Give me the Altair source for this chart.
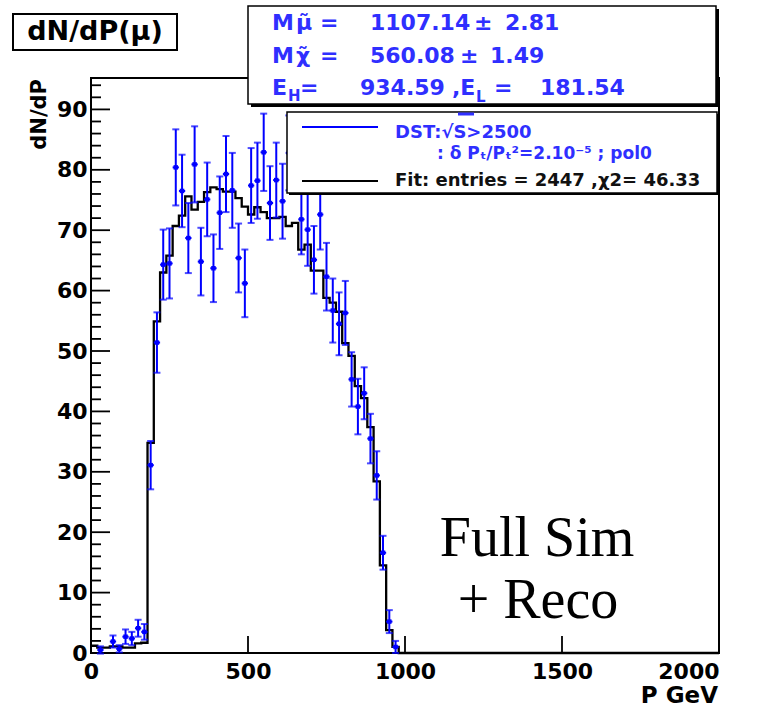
import altair as alt
import pandas as pd

# ---------------- data ----------------
bin_lo = [0, 20, 40, 60, 80, 100, 120, 140, 160, 180,
          200, 220, 240, 260, 280, 300, 320, 340, 360, 380,
          400, 420, 440, 460, 480, 500, 520, 540, 560, 580,
          600, 620, 640, 660, 680, 700, 720, 740, 760, 780,
          800, 820, 840, 860, 880, 900, 920, 940, 960, 980]
fit_vals = [1.2, 0.9, 0.9, 1.1, 1.1, 0.9, 0.9, 1.6, 1.7, 34.8,
            54.9, 63.0, 65.8, 70.7, 72.4, 75.6, 73.4, 74.7, 76.3, 77.1,
            76.8, 76.4, 76.4, 75.3, 73.9, 72.6, 73.8, 73.0, 72.0, 72.0,
            72.2, 70.7, 71.2, 66.8, 67.6, 63.3, 63.3, 58.8, 58.0, 56.5,
            51.3, 49.2, 44.2, 42.2, 37.4, 28.4, 14.5, 3.8, 1.0, 0.0]

pt_center = [30, 70, 90, 110, 130, 150, 170, 190,
             210, 230, 250, 270, 290, 310, 330, 350, 370, 390,
             410, 430, 450, 470, 490, 510, 530, 550, 570, 590,
             610, 630, 650, 670, 690, 710, 730, 750, 770, 790,
             810, 830, 850, 870, 890, 910, 930, 950, 970]
pt_val = [0.5, 1.9, 0.7, 2.7, 2.4, 4.1, 3.5, 31.1,
          51.4, 64.3, 64.5, 80.4, 76.5, 68.7, 80.9, 64.8, 75.1, 63.7,
          72.9, 79.3, 76.6, 65.4, 61.2, 77.4, 78.2, 82.9, 74.5, 78.3,
          74.8, 82.8, 83.0, 71.8, 70.1, 65.1, 72.6, 62.3, 56.7, 54.5,
          56.3, 45.3, 40.8, 43.0, 35.5, 29.4, 16.6, 5.2, 1.0]
pt_err = [0.6, 1.0, 0.6, 1.2, 1.1, 1.4, 1.3, 4.0,
          5.0, 5.8, 5.8, 6.3, 6.0, 5.8, 6.3, 5.6, 6.1, 5.6,
          6.0, 6.3, 6.2, 5.7, 5.6, 6.2, 6.3, 6.4, 6.1, 6.2,
          6.2, 6.2, 6.2, 5.8, 6.0, 5.6, 5.8, 5.6, 5.3, 5.2,
          5.3, 4.5, 4.6, 4.3, 4.1, 4.0, 2.8, 1.9, 1.0]
bin_half = 10

x_ticks = [0, 500, 1000, 1500, 2000]
x_major_inner = [500, 1000, 1500]
y_ticks = [0, 10, 20, 30, 40, 50, 60, 70, 80, 90]
y_minor = [v for v in range(0, 96, 2) if v % 10]

# ---------------- layout ----------------
SANS = "DejaVu Sans"
SERIF = "Liberation Serif"
BLUE = "#0000ff"
STATBLUE = "#2f2fff"
OX, OY = 91, 78
W, H = 628, 575
YMAX = 95.2

xs = alt.Scale(domain=[0, 2000], nice=False, zero=False)
ys = alt.Scale(domain=[0, YMAX], nice=False, zero=False)

xaxis = alt.Axis(values=x_ticks, title=None, grid=False, ticks=False, tickSize=0,
                 domain=False, labelFont=SANS, labelFontSize=22, labelFontWeight="bold",
                 labelColor="black", labelPadding=8, format="d", labelFlush=False,
                 labelOverlap=False,
                 labelAlign={"condition": {"test": "datum.value >= 2000", "value": "right"},
                             "value": "center"})
yaxis = alt.Axis(values=y_ticks, title=None, grid=False, ticks=False, tickSize=0,
                 domain=False, labelFont=SANS, labelFontSize=22, labelFontWeight="bold",
                 labelColor="black", labelPadding=4, format="d", labelOverlap=False)

hist_df = pd.DataFrame({"x": bin_lo + [1000, 2000], "y": fit_vals + [0.0, 0.0]})
pts = pd.DataFrame({"c": pt_center, "v": pt_val, "e": pt_err})
pts["lo"] = pts["v"] - pts["e"]
pts["hi"] = pts["v"] + pts["e"]
pts["xl"] = pts["c"] - bin_half
pts["xr"] = pts["c"] + bin_half

one = pd.DataFrame({"k": [0]})


def X(f):
    return alt.X(f, scale=xs, axis=xaxis)


def Y(f):
    return alt.Y(f, scale=ys, axis=yaxis)


hist = alt.Chart(hist_df).mark_line(interpolate="step-after", color="black",
                                    strokeWidth=2.3).encode(x=X("x:Q"), y=Y("y:Q"))

ymaj = alt.Chart(pd.DataFrame({"v": y_ticks})).mark_rule(color="black", strokeWidth=1.8).encode(
    y=Y("v:Q"), x=alt.value(0), x2=alt.value(19))
ymin = alt.Chart(pd.DataFrame({"v": y_minor})).mark_rule(color="black", strokeWidth=1.8).encode(
    y=Y("v:Q"), x=alt.value(0), x2=alt.value(10))
xmaj = alt.Chart(pd.DataFrame({"v": x_major_inner})).mark_rule(color="black", strokeWidth=1.8).encode(
    x=X("v:Q"), y=alt.value(H), y2=alt.value(H - 17))

vbar = alt.Chart(pts).mark_rule(color=BLUE, strokeWidth=2).encode(
    x=X("c:Q"), y=Y("lo:Q"), y2="hi:Q")
hbar = alt.Chart(pts).mark_rule(color=BLUE, strokeWidth=2).encode(
    x=X("xl:Q"), x2="xr:Q", y=Y("v:Q"))
cap_hi = alt.Chart(pts).mark_tick(color=BLUE, orient="horizontal", size=7, thickness=2).encode(
    x=X("c:Q"), y=Y("hi:Q"))
cap_lo = alt.Chart(pts).mark_tick(color=BLUE, orient="horizontal", size=7, thickness=2).encode(
    x=X("c:Q"), y=Y("lo:Q"))
mark = alt.Chart(pts).mark_square(color=BLUE, size=20, opacity=1, filled=True).encode(
    x=X("c:Q"), y=Y("v:Q"))


def box(x1, y1, x2, y2, shadow=0, sw=1.5):
    layers = []
    if shadow:
        layers.append(alt.Chart(one).mark_rect(fill="black").encode(
            x=alt.value(x1 - OX + shadow), x2=alt.value(x2 - OX + shadow),
            y=alt.value(y1 - OY + shadow), y2=alt.value(y2 - OY + shadow)))
    layers.append(alt.Chart(one).mark_rect(fill="white", stroke="black", strokeWidth=sw).encode(
        x=alt.value(x1 - OX), x2=alt.value(x2 - OX),
        y=alt.value(y1 - OY), y2=alt.value(y2 - OY)))
    return layers


def label(text, x, y, size, color="black", weight="bold", align="left",
          baseline="middle", font=SANS, angle=None):
    props = dict(text=text, fontSize=size, color=color, fontWeight=weight,
                 align=align, baseline=baseline, font=font)
    if angle is not None:
        props["angle"] = angle
    return alt.Chart(one).mark_text(**props).encode(
        x=alt.value(x - OX), y=alt.value(y - OY))


def hline(x1, x2, y, color, width=2):
    return alt.Chart(one).mark_rule(color=color, strokeWidth=width).encode(
        x=alt.value(x1 - OX), x2=alt.value(x2 - OX), y=alt.value(y - OY))


layers = [hist, ymaj, ymin, xmaj, vbar, hbar, cap_hi, cap_lo, mark]

# title box
layers += box(13, 14, 177, 50, sw=2)
layers.append(label("dN/dP(\u03bc)", 95, 32, 27, weight="bold", align="center"))

# stats box
layers += box(248, 6, 716, 104, shadow=3)
r1, r2, r3 = 23, 56, 88
layers += [
    label("M", 272, r1, 22, STATBLUE), label("\u03bc\u0303", 296, r1, 22, STATBLUE),
    label("=", 320, r1, 22, STATBLUE), label("1107.14", 370, r1, 22, STATBLUE),
    label("\u00b1", 474, r1, 22, STATBLUE), label("2.81", 505, r1, 22, STATBLUE),
    label("M", 272, r2, 22, STATBLUE), label("\u03c7\u0303", 296, r2, 22, STATBLUE),
    label("=", 320, r2, 22, STATBLUE), label("560.08", 370, r2, 22, STATBLUE),
    label("\u00b1", 460, r2, 22, STATBLUE), label("1.49", 490, r2, 22, STATBLUE),
    label("E", 272, r3, 22, STATBLUE), label("H", 288, r3 + 8, 15, STATBLUE),
    label("=", 300, r3, 22, STATBLUE), label("934.59", 360, r3, 22, STATBLUE),
    label(",E", 452, r3, 22, STATBLUE), label("L", 476, r3 + 9, 15, STATBLUE),
    label("=", 494, r3, 22, STATBLUE), label("181.54", 540, r3, 22, STATBLUE),
]

# legend box
layers += box(287, 112, 717, 193, shadow=2)
layers += [
    hline(302, 378, 127, BLUE),
    hline(302, 378, 181, "black"),
    label("DST:\u221aS>2500", 395, 133, 18, STATBLUE),
    hline(458, 474, 114, STATBLUE, 3),
    label(": \u03b4 P\u209c/P\u209c\u00b2=2.10\u207b\u2075 ; pol0", 437, 154, 17, STATBLUE),
    label("Fit: entries =  2447 ,\u03c72= 46.33", 395, 181, 18, "#111111"),
]

# axis titles
layers.append(label("dN/dP", 40, 79, 21, align="right", angle=270))
layers.append(label("P GeV", 718, 703, 23, align="right", baseline="alphabetic"))

# annotation
layers.append(label("Full Sim", 537, 556, 56, weight="normal", align="center",
                    baseline="alphabetic", font=SERIF))
layers.append(label("+ Reco", 538, 618, 56, weight="normal", align="center",
                    baseline="alphabetic", font=SERIF))

chart = alt.layer(*layers).properties(
    width=W, height=H,
    padding={"left": OX, "top": OY, "right": 765 - OX - W, "bottom": 710 - OY - H},
    autosize=alt.AutoSizeParams(type="none"),
    background="white",
).configure_view(stroke="black", strokeWidth=2)

chart.save("out.html", embed_options={"renderer": "svg", "actions": False})
